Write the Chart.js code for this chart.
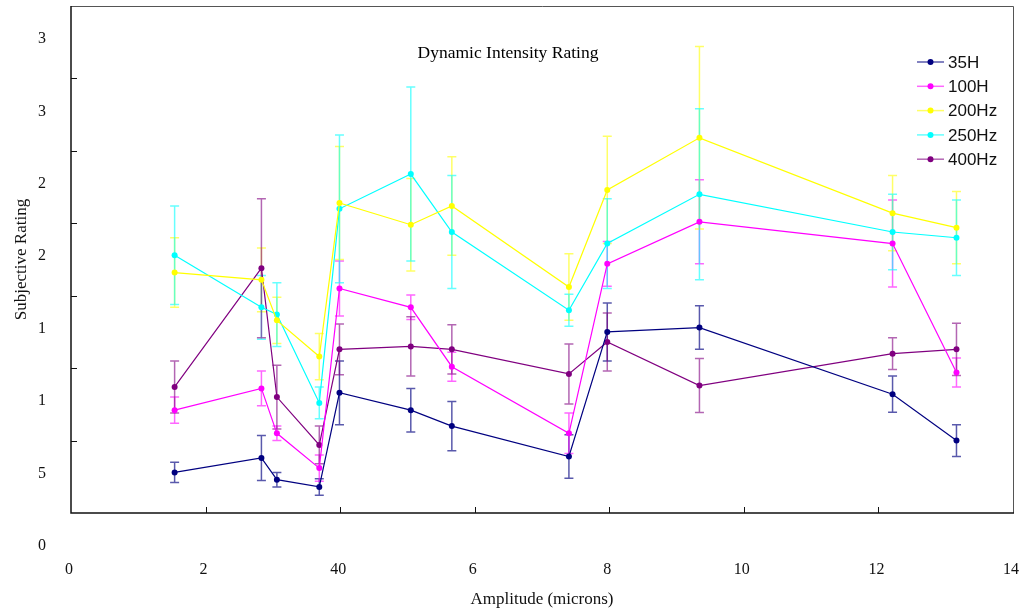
<!DOCTYPE html>
<html>
<head>
<meta charset="utf-8">
<title>Dynamic Intensity Rating</title>
<script src="https://cdn.jsdelivr.net/npm/chart.js@4.4.1/dist/chart.umd.min.js"></script>
<style>
  html, body { margin: 0; padding: 0; background: #fff; }
  #wrap { width: 1023px; height: 612px; }
</style>
</head>
<body>
<div id="wrap"><canvas id="ratingChart" width="1023" height="612"></canvas></div>
<script>
// Data
const amplitudes = [1.54, 2.83, 3.06, 3.69, 3.99, 5.05, 5.66, 7.40, 7.97, 9.34, 12.21, 13.16];

const hz35 = [0.28, 0.38, 0.23, 0.18, 0.83, 0.71, 0.60, 0.39, 1.25, 1.28, 0.82, 0.50];
const hz35Err = [0.07, 0.155, 0.05, 0.057, 0.22, 0.15, 0.17, 0.15, 0.20, 0.15, 0.125, 0.11];

const hz100 = [0.71, 0.86, 0.55, 0.31, 1.55, 1.42, 1.01, 0.55, 1.72, 2.01, 1.86, 0.97];
const hz100Err = [0.09, 0.12, 0.05, 0.09, 0.19, 0.085, 0.10, 0.14, 0.155, 0.29, 0.30, 0.10];

const hz200 = [1.66, 1.61, 1.33, 1.08, 2.14, 1.99, 2.12, 1.56, 2.23, 2.59, 2.07, 1.97];
const hz200Err = [0.24, 0.22, 0.16, 0.16, 0.39, 0.32, 0.34, 0.23, 0.37, 0.63, 0.26, 0.25];

const hz250 = [1.78, 1.42, 1.37, 0.76, 2.10, 2.34, 1.94, 1.40, 1.86, 2.20, 1.94, 1.90];
const hz250Err = [0.34, 0.22, 0.22, 0.11, 0.51, 0.60, 0.39, 0.11, 0.31, 0.59, 0.26, 0.26];

const hz400 = [0.87, 1.69, 0.80, 0.47, 1.13, 1.15, 1.13, 0.96, 1.18, 0.88, 1.10, 1.13];
const hz400Err = [0.18, 0.48, 0.22, 0.13, 0.175, 0.205, 0.17, 0.207, 0.20, 0.187, 0.11, 0.18];

const seriesNames = ['35H', '100H', '200Hz', '250Hz', '400Hz'];
const seriesValues = [hz35, hz100, hz200, hz250, hz400];
const seriesErrors = [hz35Err, hz100Err, hz200Err, hz250Err, hz400Err];
const seriesColors = ['#000080', '#ff00ff', '#ffff00', '#00ffff', '#800080'];
const errorColors = ['rgba(0,0,128,0.65)', 'rgba(255,0,255,0.6)', 'rgba(255,255,0,0.6)', 'rgba(0,255,255,0.6)', 'rgba(128,0,128,0.6)'];

// tick labels exactly as printed
const xTickLabels = ['0', '2', '40', '6', '8', '10', '12', '14'];
const yTickLabels = ['0', '5', '1', '1', '2', '2', '3', '3'];

const serif = 'Liberation Serif, Times New Roman, serif';
const sans = 'Liberation Sans, Arial, sans-serif';

// Error bars under the lines
const errorBars = {
  id: 'errorBars',
  beforeDatasetsDraw(chart) {
    const ctx = chart.ctx;
    const xs = chart.scales.x, ys = chart.scales.y;
    chart.data.datasets.forEach((ds, i) => {
      const errs = seriesErrors[i];
      ctx.save();
      ctx.strokeStyle = errorColors[i];
      ctx.lineWidth = 1.5;
      ds.data.forEach((p, j) => {
        const px = xs.getPixelForValue(p.x);
        const top = ys.getPixelForValue(p.y + errs[j]);
        const bot = ys.getPixelForValue(p.y - errs[j]);
        ctx.beginPath();
        ctx.moveTo(px, top); ctx.lineTo(px, bot);
        ctx.moveTo(px - 4.5, top); ctx.lineTo(px + 4.5, top);
        ctx.moveTo(px - 4.5, bot); ctx.lineTo(px + 4.5, bot);
        ctx.stroke();
      });
      ctx.restore();
    });
  }
};

// Frame, inward ticks, inner title and legend
const frame = {
  id: 'frame',
  afterDraw(chart) {
    const ctx = chart.ctx;
    const a = chart.chartArea;
    const xs = chart.scales.x, ys = chart.scales.y;
    ctx.save();
    ctx.strokeStyle = '#555';
    ctx.lineWidth = 1;
    ctx.beginPath();
    ctx.moveTo(a.left, a.top + 0.5); ctx.lineTo(a.right + 0.5, a.top + 0.5); ctx.lineTo(a.right + 0.5, a.bottom);
    ctx.stroke();
    ctx.strokeStyle = '#111';
    ctx.lineWidth = 1.5;
    ctx.beginPath();
    ctx.moveTo(a.left, a.top); ctx.lineTo(a.left, a.bottom); ctx.lineTo(a.right + 1, a.bottom);
    ctx.stroke();
    ctx.lineWidth = 1;
    ctx.beginPath();
    for (let v = 0.5; v < 3.5; v += 0.5) {
      const py = Math.round(ys.getPixelForValue(v)) + 0.5;
      ctx.moveTo(a.left, py); ctx.lineTo(a.left + 6, py);
    }
    for (let v = 2; v < 14; v += 2) {
      const px = Math.round(xs.getPixelForValue(v)) + 0.5;
      ctx.moveTo(px, a.bottom); ctx.lineTo(px, a.bottom - 6);
    }
    ctx.stroke();

    ctx.fillStyle = '#000';
    ctx.font = '17.5px ' + serif;
    ctx.textAlign = 'center';
    ctx.textBaseline = 'middle';
    ctx.fillText('Dynamic Intensity Rating', 508, 53);

    ctx.font = '17px ' + sans;
    ctx.textAlign = 'left';
    seriesNames.forEach((name, i) => {
      const y = 62 + i * 24.3;
      ctx.strokeStyle = errorColors[i];
      ctx.lineWidth = 1.5;
      ctx.beginPath();
      ctx.moveTo(917, y); ctx.lineTo(944, y);
      ctx.stroke();
      ctx.fillStyle = seriesColors[i];
      ctx.beginPath();
      ctx.arc(930.5, y, 3, 0, Math.PI * 2);
      ctx.fill();
      ctx.fillStyle = '#111';
      ctx.fillText(name, 948, y + 1);
    });
    ctx.restore();
  }
};

// keep the plot box where the reference has it
function noScalePadding(scale) {
  scale.paddingLeft = 0;
  scale.paddingRight = 0;
  scale.paddingTop = 0;
  scale.paddingBottom = 0;
}

const datasets = seriesNames.map((name, i) => ({
  label: name,
  data: amplitudes.map((x, j) => ({ x: x, y: seriesValues[i][j] })),
  borderColor: seriesColors[i],
  backgroundColor: seriesColors[i],
  borderWidth: 1.2,
  pointRadius: 3,
  pointBorderWidth: 0,
  pointBackgroundColor: seriesColors[i],
  tension: 0,
  fill: false
}));

const ctx = document.getElementById('ratingChart').getContext('2d');
const ratingChart = new Chart(ctx, {
  type: 'line',
  data: { datasets: datasets },
  options: {
    responsive: false,
    animation: false,
    layout: { padding: { top: 6, right: 10, left: 0, bottom: 0 } },
    plugins: {
      legend: { display: false },
      tooltip: { enabled: false },
      title: { display: false }
    },
    scales: {
      x: {
        type: 'linear',
        min: 0,
        max: 14,
        afterFit(scale) { scale.height = 99; noScalePadding(scale); },
        grid: { display: false },
        border: { display: false },
        ticks: {
          stepSize: 2,
          padding: 39,
          labelOffset: -2,
          maxRotation: 0,
          color: '#111',
          font: { family: serif, size: 16 },
          callback: (v, i) => xTickLabels[i]
        },
        title: {
          display: true,
          text: 'Amplitude (microns)',
          color: '#111',
          font: { family: serif, size: 17 },
          padding: { top: 0, bottom: 2 }
        }
      },
      y: {
        min: 0,
        max: 3.5,
        afterFit(scale) { scale.width = 71; noScalePadding(scale); },
        grid: { display: false },
        border: { display: false },
        ticks: {
          stepSize: 0.5,
          padding: 17,
          labelOffset: 33,
          crossAlign: 'center',
          color: '#111',
          font: { family: serif, size: 16 },
          callback: (v, i) => yTickLabels[i]
        },
        title: {
          display: true,
          text: 'Subjective Rating',
          color: '#111',
          font: { family: serif, size: 17 },
          padding: { top: 11, bottom: 0 }
        }
      }
    }
  },
  plugins: [errorBars, frame]
});
</script>
</body>
</html>
